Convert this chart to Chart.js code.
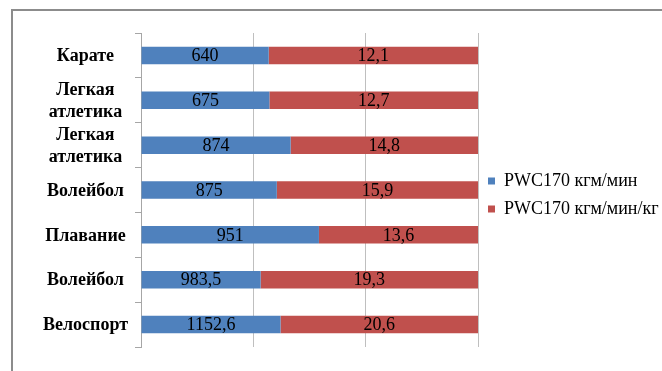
<!DOCTYPE html>
<html>
<head>
<meta charset="utf-8">
<script src="https://cdn.jsdelivr.net/npm/chart.js@4"></script>
<style>
  html, body { margin: 0; padding: 0; background: #fff; overflow: hidden; }
  #frame { position: absolute; left: 11px; top: 9px; width: 720px; height: 420px; border: 2px solid #8c8c8c; }
  #wrap { position: absolute; left: 0; top: 0; width: 662px; height: 371px; }
</style>
</head>
<body>
<div id="frame"></div>
<div id="wrap"><canvas id="chart"></canvas></div>
<script>
// categories, top to bottom
const categories = ['Карате', ['Легкая', 'атлетика'], ['Легкая', 'атлетика'], 'Волейбол', 'Плавание', 'Волейбол', 'Велоспорт'];

// values printed on the bars
const pwcValues = [640, 675, 874, 875, 951, 983.5, 1152.6];
const pwcKgValues = [12.1, 12.7, 14.8, 15.9, 13.6, 19.3, 20.6];

// bar lengths (share of full width, %)
const pwcShare = [37.9, 38.1, 44.4, 40.3, 52.8, 35.5, 41.4];
const pwcKgShare = [62.1, 61.9, 55.6, 59.7, 47.2, 64.5, 58.6];

const seriesNames = ['PWC170 кгм/мин', 'PWC170 кгм/мин/кг'];
const gridSteps = [0, 100 / 3, 200 / 3, 100];

const serif = '"Liberation Serif", "Times New Roman", serif';

function fmt(v) {
    return String(v).replace('.', ',');
}

// draws the value text centred in every bar segment
const barLabels = {
    id: 'barLabels',
    afterDatasetsDraw(chart) {
        const ctx = chart.ctx;
        ctx.save();
        ctx.font = '18px ' + serif;
        ctx.fillStyle = '#000';
        ctx.textAlign = 'center';
        ctx.textBaseline = 'middle';
        chart.data.datasets.forEach(function (ds, i) {
            chart.getDatasetMeta(i).data.forEach(function (bar, j) {
                ctx.fillText(fmt(ds.values[j]), (bar.x + bar.base) / 2, bar.y + 1);
            });
        });
        ctx.restore();
    }
};

// the layout caps a side legend at a quarter of the width, so widen it here
const wideLegend = {
    id: 'wideLegend',
    beforeLayout(chart) {
        const lg = chart.legend;
        if (lg && !lg._wide) {
            const fit = lg.fit.bind(lg);
            lg.fit = function () {
                fit();
                this.width = 184;
            };
            lg._wide = true;
        }
    }
};

new Chart(document.getElementById('chart'), {
    type: 'bar',
    data: {
        labels: categories,
        datasets: [{
            label: seriesNames[0],
            data: pwcShare,
            values: pwcValues,
            backgroundColor: '#4f81bd',
            barPercentage: 0.39,
            categoryPercentage: 1
        }, {
            label: seriesNames[1],
            data: pwcKgShare,
            values: pwcKgValues,
            backgroundColor: '#c0504d',
            barPercentage: 0.39,
            categoryPercentage: 1
        }]
    },
    options: {
        indexAxis: 'y',
        responsive: true,
        maintainAspectRatio: false,
        animation: false,
        layout: { padding: { top: 33, bottom: 24, left: 0, right: 0 } },
        scales: {
            x: {
                stacked: true,
                min: 0,
                max: 100,
                afterBuildTicks: function (axis) {
                    axis.ticks = gridSteps.map(v => ({ value: v }));
                },
                ticks: { display: false },
                grid: { color: '#bfbfbf', drawTicks: false },
                border: { display: false }
            },
            y: {
                stacked: true,
                afterFit: function (axis) { axis.width = 141; },
                grid: { drawOnChartArea: false, tickLength: 6, color: '#a6a6a6', offset: true },
                border: { color: '#a6a6a6' },
                ticks: {
                    autoSkip: false,
                    crossAlign: 'center',
                    padding: 7,
                    labelOffset: 1,
                    color: '#000',
                    font: { family: serif, size: 18, weight: 'bold', lineHeight: 1.2 }
                }
            }
        },
        plugins: {
            tooltip: { enabled: false },
            legend: {
                position: 'right',
                title: { display: true, text: '', padding: 0, font: { size: 10, lineHeight: 1 } },
                labels: {
                    boxWidth: 7,
                    boxHeight: 7,
                    padding: 10,
                    color: '#000',
                    font: { family: serif, size: 18 }
                }
            }
        }
    },
    plugins: [barLabels, wideLegend]
});
</script>
</body>
</html>
